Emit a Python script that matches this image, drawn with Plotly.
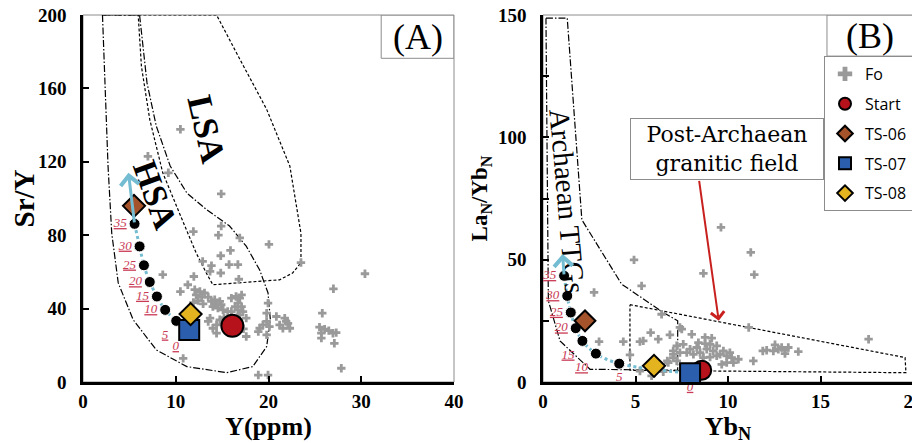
import plotly.graph_objects as go

# ---------------- Panel A : Sr/Y vs Y ----------------
a_fo_x = [10.5, 7.0, 9.2, 14.9, 11.9, 14.9, 14.6, 16.9, 15.9, 14.85, 20.05, 12.9, 13.85, 15.75, 16.7,
          13.7, 14.85, 16.8, 8.6, 11.95, 23.5, 30.4, 27.0, 11.3, 10.5,
          12.05, 12.6, 13.1, 12.2, 12.8, 13.5, 12.4, 11.9, 12.95,
          13.85, 14.2, 14.75, 14.4, 14.9, 14.0, 14.55, 15.1,
          16.0, 16.5, 16.9, 17.1, 16.7, 16.4, 17.1, 16.7, 17.25, 16.9, 16.0, 15.6,
          13.5, 14.4, 14.75, 14.0, 14.4, 17.6, 17.6, 13.7,
          19.95, 19.8, 19.8, 19.4, 19.05, 18.9, 19.8, 20.1,
          20.85, 21.75, 22.1, 21.2, 21.55, 22.3, 21.9,
          10.8, 18.9, 19.95, 27.85, 25.8,
          25.5, 26.05, 26.5, 25.7, 26.95, 27.3, 25.7, 27.1, 15.2, 17.3]
a_fo_y = [137.7, 123, 114, 102.5, 82, 85, 80, 78.5, 71.7, 68.8, 75, 65.7, 63.4, 64, 64,
          60.3, 59.4, 56, 58.5, 57.5, 65.1, 59, 50.8, 53, 49.3,
          50.3, 49.3, 48.5, 47.5, 46.3, 46.3, 44.4, 43.3, 42.6,
          43.9, 44.8, 43.9, 42.1, 42.1, 41.1, 40.3, 39.3,
          45.7, 46.6, 45.7, 47.5, 43, 41.1, 41.1, 39.3, 38.4, 36.6, 38.4, 38.4,
          33, 31.1, 33.9, 29.3, 26.6, 34.8, 24.8, 34.8,
          43, 37.5, 33, 31.1, 29.3, 27.5, 25.7, 30.2,
          35.7, 34.8, 32, 31.1, 29.3, 29.3, 33,
          12.9, 3.8, 3.8, 7.5, 37.5,
          29.9, 28.8, 28, 26.6, 26.6, 26.9, 23.9, 21.1, 35, 29]

a_start = ([16.1], [30.6])
a_ts06 = ([5.5], [96])
a_ts07 = ([11.45], [28.4])
a_ts08 = ([11.6], [37])

a_melt_x = [11.2, 10.05, 8.86, 7.97, 7.2, 6.57, 6.1, 5.56]
a_melt_y = [27, 33.3, 39.3, 46.6, 54.5, 63.6, 73.9, 86.2]
melt_labels = ["0", "5", "10", "15", "20", "25", "30", "35"]
a_arrow_tip = (4.9, 114)

hsa_x = [2.1, 2.4, 2.7, 3.1, 3.8, 5.4, 7.9, 11.2, 15.5, 18.3, 19.8, 20.2, 19.95, 19.05, 17.6, 15.8,
         13.3, 11.2, 9.4, 7.9, 6.9, 6.1, 2.1]
hsa_y = [200, 154, 117.7, 81, 54, 34, 17.5, 8.4, 5.1, 8.4, 19.3, 34, 48.5, 61, 74, 85,
         94, 103, 117.7, 139.5, 163, 200, 200]
lsa_x = [2.2, 14.4, 16.9, 19.8, 22.3, 23.5, 23.5, 22.6, 21.2, 17.6, 14.0, 13.3, 12.2, 10.4, 8.6,
         7.2, 6.3, 5.95]
lsa_y = [200, 200, 176, 148.6, 117.7, 81, 65, 59.4, 55.7, 54.3, 53, 59.4, 70.3, 92, 114,
         143, 172, 200]

# ---------------- Panel B : LaN/YbN vs YbN ----------------
b_fo_x = [9.62, 11.23, 11.42, 8.67, 4.92, 5.33, 2.76, 6.41, 11.12, 17.6, 3.03, 4.34, 5.24, 5.42, 5.82,
          6.23, 6.86, 7.5, 8.04, 11.37,
          12.09, 12.54, 12.72, 12.9, 13.08, 13.26, 13.08, 13.8, 12.45, 11.88,
          7.4, 8.76, 9.12, 8.4, 8.76, 9.03, 9.39, 9.75, 9.57, 10.1, 10.56, 10.2, 9.93, 8.31, 7.95,
          7.58, 7.23, 7.04, 7.4, 7.77, 8.13, 8.49, 8.85, 9.2, 9.39, 9.03, 8.67, 7.04, 6.77, 7.23,
          9.93, 10.29, 9.66,
          5.24, 5.87, 6.5, 6.72, 7.04, 4.7]
b_fo_y = [63.2, 53, 43.9, 44.4, 49.9, 39.3, 36.6, 27.7, 22.3, 17.5, 16.5, 16.5, 16.5, 16.8, 20.2,
          17.5, 19.3, 21.6, 19.5, 8.6,
          13.0, 15.2, 13.4, 14.1, 13.0, 14.1, 11.6, 12.4, 12.7, 12.7,
          22.3, 18.2, 17.9, 16.1, 15.7, 15.4, 14.8, 12.7, 11.3, 12.0, 9.3, 10.0, 7.9, 14.1, 13.4,
          15.4, 14.8, 12.7, 12.0, 12.0, 11.3, 12.0, 13.4, 12.7, 10.7, 10.2, 10.0, 10.0, 7.9, 8.6,
          10.7, 7.9, 7.2,
          4.5, 2.5, 4.2, 8.6, 11.3, 11.1]

b_start = ([8.58], [4.8])
b_ts06 = ([2.27], [25])
b_ts07 = ([7.95], [3.6])
b_ts08 = ([6.0], [6.6])

b_melt_x = [7.95, 4.12, 2.86, 2.13, 1.77, 1.5, 1.31, 1.14]
b_melt_y = [3.6, 7.5, 11.6, 16.8, 22, 28.4, 35.2, 43.4]
b_arrow_tip = (1.06, 52.3)

ttg_x = [0.16, 1.31, 2.1, 4.25, 6.5, 7.28, 7.28, 2.54, 0.92, 0.29, 0.16]
ttg_y = [148.7, 148.7, 66.3, 40, 28.4, 25, 4.8, 5.2, 16.8, 33.2, 148.7]
pag_x = [4.7, 19.57, 19.62, 4.7, 4.7]
pag_y = [31.6, 10, 3.8, 4.8, 31.6]
pag_arrow = (8.43, 82.8, 9.5, 25)   # tail x, tail y, head x, head y

# ---------------- styles ----------------
SERIF = "Liberation Serif"
GREY = "#9a9a9a"
CYAN = "#74bcd2"
LABRED = "#c93a55"
C_START = "#b5121b"
C_TS06 = "#a4532a"
C_TS07 = "#2b5fae"
C_TS08 = "#e3b320"
DASHDOT = "7px,2px,1.5px,2px"
DASH = "3px,2px"

W, H = 920, 443
PAGE_OFF = 8          # the page body offsets the figure by 8 px
TOP, BOTTOM = 15, 382  # plot area, in window pixels


def px_x(sx):
    return (sx - PAGE_OFF) / W


def px_y(sy):
    return (BOTTOM - sy) / (BOTTOM - TOP)


fig = go.Figure()


def add_panel(xa, ya, fo_x, fo_y, polys, melt_x, melt_y, start, ts06, ts07, ts08,
              legend, sizes, label_pos, dot_size):
    for px, py, dash in polys:
        fig.add_trace(go.Scatter(x=px, y=py, mode="lines", xaxis=xa, yaxis=ya, showlegend=False,
                                 hoverinfo="skip", line=dict(color="black", width=1.2, dash=dash)))
    fig.add_trace(go.Scatter(x=fo_x, y=fo_y, mode="markers", name="Fo", xaxis=xa, yaxis=ya,
                             showlegend=legend, legendgroup="fo",
                             marker=dict(symbol="cross", size=7, color=GREY, line=dict(width=0))))
    fig.add_trace(go.Scatter(x=melt_x, y=melt_y, mode="lines", xaxis=xa, yaxis=ya, showlegend=False,
                             line=dict(color=CYAN, width=3, dash="dot", shape="spline"),
                             hoverinfo="skip"))
    fig.add_trace(go.Scatter(x=melt_x, y=melt_y, mode="markers+text", text=melt_labels,
                             xaxis=xa, yaxis=ya, showlegend=False, cliponaxis=False,
                             textposition=label_pos,
                             textfont=dict(family=SERIF, size=13, color=LABRED, style="italic",
                                           lineposition="under"),
                             marker=dict(color="black", size=dot_size,
                                         line=dict(color="white", width=1))))
    specs = [("Start", start, "circle", C_START, sizes[0]),
             ("TS-06", ts06, "diamond", C_TS06, sizes[1]),
             ("TS-07", ts07, "square", C_TS07, sizes[2]),
             ("TS-08", ts08, "diamond", C_TS08, sizes[3])]
    for name, (sx, sy), sym, col, sz in specs:
        fig.add_trace(go.Scatter(x=sx, y=sy, mode="markers", name=name, xaxis=xa, yaxis=ya,
                                 showlegend=legend, legendgroup=name,
                                 marker=dict(symbol=sym, size=sz, color=col,
                                             line=dict(color="black", width=2))))


add_panel("x", "y", a_fo_x, a_fo_y, [(hsa_x, hsa_y, DASHDOT), (lsa_x, lsa_y, DASH)],
          a_melt_x, a_melt_y, a_start, a_ts06, a_ts07, a_ts08, False, [22, 17, 20, 17],
          ["bottom left", "bottom left", "middle left", "middle left", "middle left",
           "middle left", "middle left", "middle left"], 11)
add_panel("x2", "y2", b_fo_x, b_fo_y, [(ttg_x, ttg_y, DASHDOT), (pag_x, pag_y, DASH)],
          b_melt_x, b_melt_y, b_start, b_ts06, b_ts07, b_ts08, True, [19, 16, 20, 17],
          ["bottom center", "bottom center", "bottom left", "bottom left", "middle left",
           "middle left", "middle left", "middle left"], 11)

tickfont = dict(family=SERIF, size=19, color="black", weight="bold")
common = dict(showgrid=False, zeroline=False, showline=True, linecolor="black", linewidth=2.5,
              ticks="inside", ticklen=6, tickwidth=2, tickcolor="black", tickfont=tickfont,
              automargin=False, ticklabeloverflow="allow")
xcommon = dict(common, ticklabelstandoff=0)
ycommon = dict(common, ticklabelstandoff=10)
xtitle_font = dict(family=SERIF, size=26, weight="bold", color="black")

fig.update_layout(
    template="none",
    width=W, height=H,
    margin=dict(l=0, r=0, t=TOP - PAGE_OFF, b=H - (BOTTOM - PAGE_OFF)),
    paper_bgcolor="white", plot_bgcolor="white",
    xaxis=dict(domain=[px_x(83), px_x(454)], range=[0, 40], dtick=10, anchor="y",
               title=dict(text="Y(ppm)", font=xtitle_font, standoff=0), **xcommon),
    yaxis=dict(domain=[0, 1], range=[0, 200], dtick=40, anchor="x",
               title=dict(text="Sr/Y", font=dict(family=SERIF, size=29, weight="bold", color="black"),
                          standoff=0), **ycommon),
    xaxis2=dict(domain=[px_x(543), px_x(913)], range=[0, 20], dtick=5, anchor="y2",
                title=dict(text="Yb<sub>N</sub>", font=xtitle_font, standoff=0), **xcommon),
    yaxis2=dict(domain=[0, 1], range=[0, 150], dtick=50, anchor="x2",
                minor=dict(dtick=25, ticks="inside", ticklen=6, tickwidth=2, tickcolor="black"),
                title=dict(text="La<sub>N</sub>/Yb<sub>N</sub>",
                           font=dict(family=SERIF, size=23, weight="bold", color="black"),
                           standoff=4),
                **ycommon),
    showlegend=True,
    legend=dict(x=px_x(913), xanchor="right", y=px_y(56), yanchor="top",
                bordercolor="#8c8c8c", borderwidth=1, bgcolor="white",
                font=dict(family="Open Sans", size=16, color="black"),
                tracegroupgap=6, itemwidth=30, itemsizing="constant"),
)

shapes = []
# thin grey plot frames
for x0, x1 in ((83, 454), (543, 913)):
    shapes.append(dict(type="rect", xref="paper", yref="paper", x0=px_x(x0), x1=px_x(x1), y0=0, y1=1,
                       line=dict(color="#8c8c8c", width=1), layer="below"))
# panel label boxes
shapes.append(dict(type="rect", xref="x", yref="y", x0=32.15, x1=40, y0=176.4, y1=200,
                   line=dict(color="#8c8c8c", width=1)))
shapes.append(dict(type="rect", xref="x2", yref="y2", x0=15.35, x1=20, y0=133.2, y1=150,
                   line=dict(color="#8c8c8c", width=1)))
fig.update_layout(shapes=shapes)

ann = [
    dict(text="(A)", x=36.1, y=188.2, xref="x", yref="y", showarrow=False,
         font=dict(family=SERIF, size=36, color="black")),
    dict(text="(B)", x=17.7, y=141.6, xref="x2", yref="y2", showarrow=False,
         font=dict(family=SERIF, size=36, color="black")),
    dict(text="HSA", x=7.75, y=102, xref="x", yref="y", showarrow=False, textangle=70,
         font=dict(family=SERIF, size=34, color="black", weight="bold")),
    dict(text="LSA", x=13.3, y=137.7, xref="x", yref="y", showarrow=False, textangle=77,
         font=dict(family=SERIF, size=35, color="black", weight="bold")),
    dict(text="Archaean TTGs", x=1.32, y=74, xref="x2", yref="y2", showarrow=False, textangle=85,
         font=dict(family=SERIF, size=29, color="black")),
    dict(text="Post-Archaean<br>granitic field", x=9.97, y=95.3, xref="x2", yref="y2",
         showarrow=False, width=190, height=58, bordercolor="#8c8c8c", borderwidth=1,
         bgcolor="white", font=dict(family="DejaVu Serif", size=22, color="black")),
    dict(text="", x=pag_arrow[2], y=pag_arrow[3], ax=pag_arrow[0], ay=pag_arrow[1],
         xref="x2", yref="y2", axref="x2", ayref="y2", showarrow=True, arrowhead=4,
         arrowsize=1.3, arrowwidth=2, arrowcolor="#c8201e", standoff=0, startstandoff=0),
    dict(text="", x=a_arrow_tip[0], y=a_arrow_tip[1], ax=a_melt_x[-1], ay=a_melt_y[-1],
         xref="x", yref="y", axref="x", ayref="y", showarrow=True, arrowhead=4,
         arrowsize=1.2, arrowwidth=3, arrowcolor=CYAN, standoff=0),
    dict(text="", x=b_arrow_tip[0], y=b_arrow_tip[1], ax=b_melt_x[-1], ay=b_melt_y[-1],
         xref="x2", yref="y2", axref="x2", ayref="y2", showarrow=True, arrowhead=4,
         arrowsize=1.2, arrowwidth=3, arrowcolor=CYAN, standoff=0),
]
fig.update_layout(annotations=ann)

fig.write_html("out.html")
